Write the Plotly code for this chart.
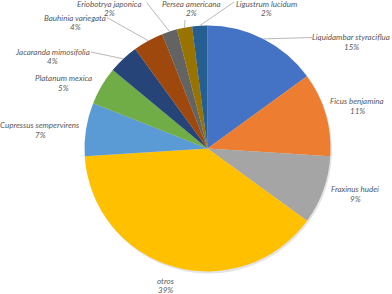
import math
import plotly.graph_objects as go

species = ["Liquidambar styraciflua", "Ficus benjamina", "Fraxinus hudei", "otros",
           "Cupressus sempervirens", "Platanum mexica", "Jacaranda mimosifolia",
           "Bauhinia variegata", "Eriobotrya japonica", "Persea americana", "Ligustrum lucidum"]
shares = [15, 11, 9, 39, 7, 5, 4, 4, 2, 2, 2]
colors = ["#4472C4", "#ED7D31", "#A5A5A5", "#FFC000", "#5B9BD5", "#70AD47",
          "#264478", "#9E480E", "#636363", "#997300", "#255E91"]

W, H = 392, 294
CX, CY, R = 207.5, 148.5, 123

# label centres (pixels): x, name line y, percent line y
label_pos = {
    "Liquidambar styraciflua": (351, 37.5, 46.5),
    "Ficus benjamina": (357, 101, 110.5),
    "Fraxinus hudei": (355, 189, 198.5),
    "otros": (165.5, 280.5, 289.5),
    "Cupressus sempervirens": (40, 125, 134.5),
    "Platanum mexica": (64, 78, 87.5),
    "Jacaranda mimosifolia": (52, 52, 61.5),
    "Bauhinia variegata": (75, 17.5, 27),
    "Eriobotrya japonica": (110, 4.5, 13.5),
    "Persea americana": (191, 4.5, 13.5),
    "Ligustrum lucidum": (266, 4.5, 13.5),
}
# leader line end points near labels (pixels)
leader_end = {
    "Liquidambar styraciflua": (312, 37.5),
    "Jacaranda mimosifolia": (91, 52),
    "Bauhinia variegata": (107, 17.5),
    "Eriobotrya japonica": (147, 3),
    "Persea americana": (185, 20),
    "Ligustrum lucidum": (234, 2),
}

total = sum(shares)
FONT = "Lato, sans-serif"
TXT = "#595959"

fig = go.Figure(go.Pie(
    labels=species, values=shares, sort=False, direction="clockwise", rotation=0,
    marker=dict(colors=colors, line=dict(width=0)),
    textinfo="none", hoverinfo="label+percent", showlegend=False,
    domain=dict(x=[(CX - R) / W, (CX + R) / W], y=[1 - (CY + R) / H, 1 - (CY - R) / H]),
))

annotations = []
shapes = [dict(type="circle", xref="paper", yref="paper", layer="below",
               x0=(CX - R + 1) / W, x1=(CX + R + 1.5) / W,
               y0=1 - (CY + R + 2) / H, y1=1 - (CY - R + 1) / H,
               fillcolor="#e4e4e4", line=dict(width=0))]

cum = 0
for name, v in zip(species, shares):
    mid = (cum + v / 2) / total * 2 * math.pi
    cum += v
    px, py, py2 = label_pos[name]
    pct = f"{round(v / total * 100)}%"
    for t, yy in ((name, py), (pct, py2)):
        annotations.append(dict(x=px / W, y=1 - yy / H, xref="paper", yref="paper",
                                text=t, showarrow=False, xanchor="center", yanchor="middle",
                                borderpad=0,
                                font=dict(family=FONT, size=8, color=TXT, style="italic")))
    if name in leader_end:
        ex = CX + R * math.sin(mid)
        ey = CY - R * math.cos(mid)
        lx, ly = leader_end[name]
        shapes.append(dict(type="line", xref="paper", yref="paper",
                           x0=ex / W, y0=1 - ey / H, x1=lx / W, y1=1 - ly / H,
                           line=dict(color="#a6a6a6", width=0.8)))

fig.update_layout(width=W, height=H, margin=dict(l=0, r=0, t=0, b=0),
                  paper_bgcolor="white", plot_bgcolor="white",
                  annotations=annotations, shapes=shapes)
fig.write_html("out.html", config={"displayModeBar": False},
               post_script="document.body.style.margin='0';document.body.style.overflow='hidden';")
